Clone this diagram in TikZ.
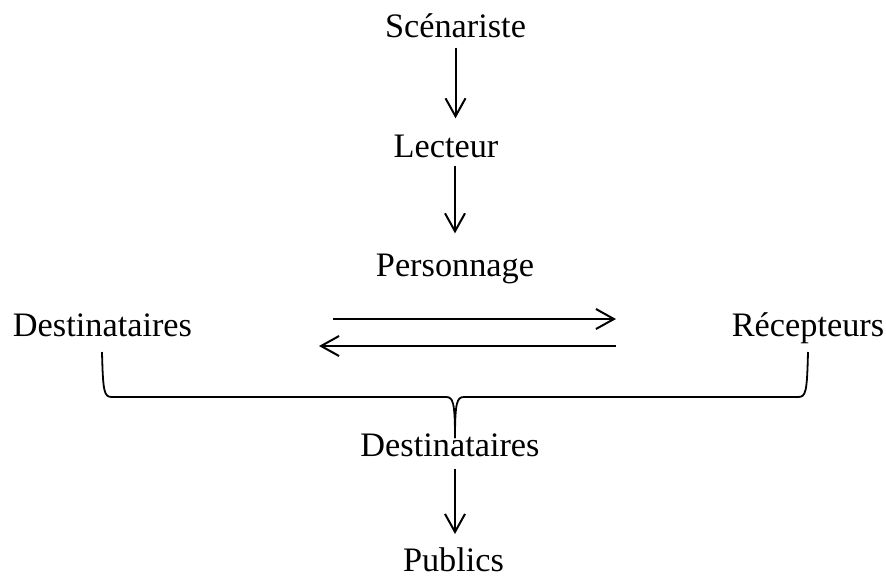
\documentclass[tikz,border=0pt]{standalone}
\usepackage{fontspec}
\setmainfont{Liberation Serif}
\usetikzlibrary{arrows.meta}

\begin{document}
\begin{tikzpicture}[x=1pt, y=-1pt,
    label/.style={font=\fontsize{34.3}{40}\selectfont, inner sep=0pt, anchor=base},
    arr/.style={line width=2pt, -{Straight Barb[length=18pt, width=20pt, line width=2pt]}}]
    \useasboundingbox (0,0) rectangle (886,579);

    % Chain of roles
    \node[label] (scen) at (455.5,37) {Scénariste};
    \node[label] (lect) at (446,157) {Lecteur};
    \node[label] (pers) at (455,276) {Personnage};
    \node[label] (destl) at (102.5,336) {Destinataires};
    \node[label] (recep) at (808,336) {Récepteurs};
    \node[label] (destm) at (450,456) {Destinataires};
    \node[label] (publ) at (453.5,571) {Publics};

    % Vertical arrows
    \draw[arr, shorten <=10pt, shorten >=16pt] (scen.south) -- (scen.south |- lect.north);
    \draw[arr, shorten <=8pt, shorten >=20pt] (pers |- lect.south) -- (pers.north);
    \draw[arr, shorten <=12pt, shorten >=13pt] (pers |- destm.south) -- (pers |- publ.north);

    % Exchange between destinataires and recepteurs
    \coordinate (aller) at (333,319);
    \coordinate (allerfin) at (616,319);
    \coordinate (retour) at (616,346);
    \coordinate (retourfin) at (319,346);
    \draw[arr] (aller) -- (allerfin);
    \draw[arr] (retour) -- (retourfin);

    % Brace
    \draw[line width=1.8pt] (102,352) .. controls (103,392) and (104,397) .. (112,397)
        -- (446,397) .. controls (453,397) and (455,402) .. (455,438);
    \draw[line width=1.8pt] (808,352) .. controls (807,392) and (806,397) .. (798,397)
        -- (464,397) .. controls (457,397) and (455,402) .. (455,438);
\end{tikzpicture}
\end{document}
